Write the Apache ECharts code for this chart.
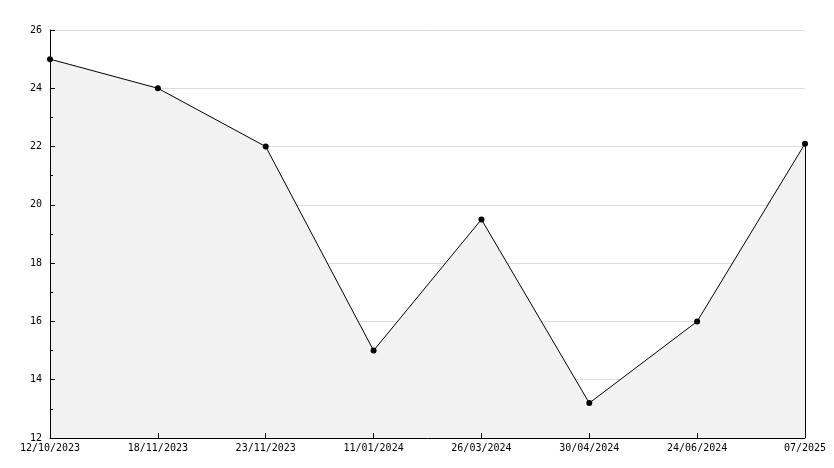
<!DOCTYPE html>
<html><head><meta charset="utf-8">
<script src="https://cdn.jsdelivr.net/npm/echarts@6/dist/echarts.min.js"></script>
<style>html,body{margin:0;padding:0;background:#fff}#c{width:834px;height:468px}</style>
</head><body><div id="c"></div>
<script>
const categories = ["12/10/2023","18/11/2023","23/11/2023","11/01/2024","26/03/2024","30/04/2024","24/06/2024","07/2025"];
const values = [25, 24, 22, 15, 19.5, 13.2, 16, 22.1];
const yMin = 12, yMax = 26, yStep = 2;

const chart = echarts.init(document.getElementById('c'), null, {renderer:'canvas'});
const font = "'DejaVu Sans Mono', monospace";
const lastCat = categories[categories.length-1];
const lastVal = values[values.length-1];
chart.setOption({
  animation:false,
  backgroundColor:'#ffffff',
  grid:{left:50,right:29,top:30,bottom:30,containLabel:false},
  xAxis:{
    type:'category', data:categories, boundaryGap:false, z:10,
    axisLine:{show:true,lineStyle:{color:'#000',width:1}},
    axisTick:{show:true,inside:true,length:5,alignWithLabel:true,lineStyle:{color:'#000'}},
    axisLabel:{color:'#000',fontFamily:font,fontSize:10,margin:5,interval:0},
    splitLine:{show:false}
  },
  yAxis:[{
    type:'value', min:yMin, max:yMax, interval:yStep, position:'left', z:0,
    axisLine:{show:false}, axisTick:{show:false}, axisLabel:{show:false},
    splitLine:{show:true,lineStyle:{color:'#dddddd',width:1}}
  },{
    type:'value', min:yMin, max:yMax, interval:yStep, position:'left', offset:0, z:10,
    axisLine:{show:true,lineStyle:{color:'#000',width:1}},
    axisTick:{show:true,inside:true,length:5,lineStyle:{color:'#000'}},
    minorTick:{show:true,splitNumber:2,length:3,lineStyle:{color:'#000'}},
    axisLabel:{color:'#000',fontFamily:font,fontSize:10,margin:8},
    splitLine:{show:false}
  }],
  series:[{
    type:'line', data:values, yAxisIndex:0,
    symbol:'circle', symbolSize:6,
    itemStyle:{color:'#000'},
    lineStyle:{color:'#000',width:1},
    areaStyle:{color:'#f2f2f2',opacity:1},
    markLine:{
      silent:true, symbol:['none','none'], label:{show:false},
      lineStyle:{color:'#000',width:1,type:'solid'},
      data:[[{coord:[lastCat,lastVal]},{coord:[lastCat,yMin]}]]
    }
  }]
});
</script></body></html>
